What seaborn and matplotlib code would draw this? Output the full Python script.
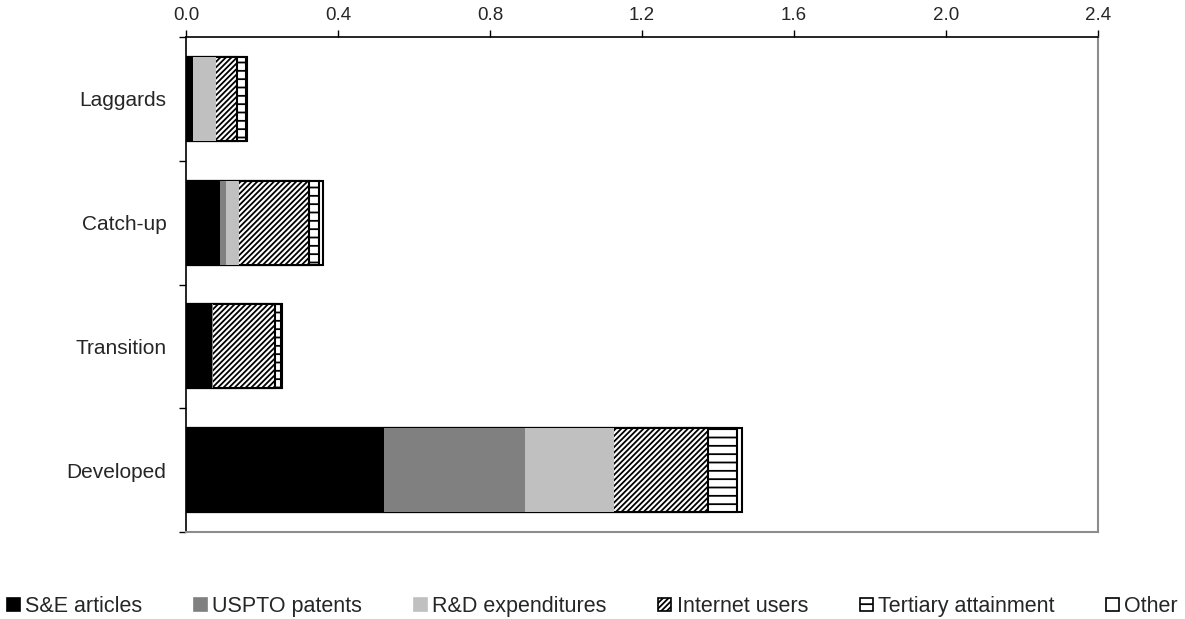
import matplotlib
matplotlib.use("Agg")
import matplotlib.pyplot as plt
import seaborn as sns
import numpy as np
import pandas as pd
from matplotlib.patches import Patch

sns.set_theme(style="white")
plt.rcParams['font.family'] = ['Liberation Sans', 'DejaVu Sans']
plt.rcParams['hatch.linewidth'] = 1.3

categories = ["Laggards", "Catch-up", "Transition", "Developed"]
se_articles = [0.018, 0.089, 0.068, 0.521]
uspto_patents = [0.000, 0.015, 0.002, 0.371]
rd_expenditures = [0.062, 0.036, 0.000, 0.234]
internet_users = [0.055, 0.184, 0.165, 0.248]
tertiary_attainment = [0.022, 0.027, 0.015, 0.075]
other = [0.003, 0.009, 0.002, 0.015]

series_names = ["S&E articles", "USPTO patents", "R&D expenditures",
                "Internet users", "Tertiary attainment", "Other"]
series_vals = [se_articles, uspto_patents, rd_expenditures,
               internet_users, tertiary_attainment, other]
styles = [
    dict(color="#000000", edgecolor="none", hatch=None, lw=0),
    dict(color="#808080", edgecolor="none", hatch=None, lw=0),
    dict(color="#c0c0c0", edgecolor="none", hatch=None, lw=0),
    dict(color="#ffffff", edgecolor="#000000", hatch="//////", lw=1.5),
    dict(color="#ffffff", edgecolor="#000000", hatch="--", lw=1.5),
    dict(color="#ffffff", edgecolor="#000000", hatch=None, lw=1.5),
]

cum = np.cumsum(np.array(series_vals), axis=0)

fig = plt.figure(figsize=(11.85, 6.19), dpi=100)
ax = fig.add_axes([186/1185, 1-532/619, (1098-186)/1185, (532-37)/619])

for i in reversed(range(len(series_names))):
    st = styles[i]
    df = pd.DataFrame({"cat": categories, "val": cum[i]})
    sns.barplot(data=df, x="val", y="cat", order=categories, orient="h",
                color=st["color"], saturation=1, width=0.68, ax=ax,
                edgecolor=st["edgecolor"], linewidth=st["lw"], hatch=st["hatch"])

ax.set_xlim(0, 2.4)
ax.set_ylim(3.5, -0.5)
ax.set_xticks(np.arange(0, 2.41, 0.4))
ax.set_xticklabels([f"{v:.1f}" for v in np.arange(0, 2.41, 0.4)])
ax.xaxis.tick_top()
ax.tick_params(axis="x", which="major", direction="out", length=5, width=1,
               color="black", labelsize=13.5, pad=4, top=True, bottom=False)
ax.set_yticks(range(len(categories)))
ax.set_yticklabels(categories)
ax.set_yticks(np.arange(-0.5, 3.6, 1.0), minor=True)
ax.tick_params(axis="y", which="major", length=0, labelsize=15, pad=14)
ax.tick_params(axis="y", which="minor", direction="out", length=5, width=1,
               color="black", left=True)
ax.set_xlabel("")
ax.set_ylabel("")
ax.grid(False)
for s in ["top", "left"]:
    ax.spines[s].set_color("black")
    ax.spines[s].set_linewidth(1.2)
for s in ["right", "bottom"]:
    ax.spines[s].set_color("#8c8c8c")
    ax.spines[s].set_linewidth(1.5)

handles = []
for name, st in zip(series_names, styles):
    handles.append(Patch(facecolor=st["color"],
                         edgecolor=st["edgecolor"] if st["edgecolor"] != "none" else st["color"],
                         hatch=st["hatch"], linewidth=1.2, label=name))
fig.legend(handles=handles, loc="lower center", bbox_to_anchor=(0.5, -0.028),
           ncol=6, frameon=False, fontsize=15.5, handlelength=0.6, handleheight=0.6,
           handletextpad=0.25, columnspacing=2.4)

fig.savefig("out.png", dpi=100)
